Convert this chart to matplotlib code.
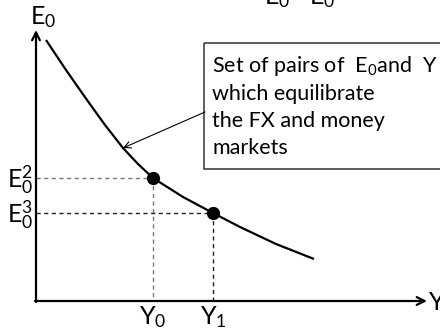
import matplotlib
matplotlib.use("Agg")
from matplotlib import pyplot as plt

plt.rcParams['font.family'] = ['Lato', 'DejaVu Sans']
plt.rcParams['mathtext.fontset'] = 'custom'
plt.rcParams['mathtext.rm'] = 'Lato'
plt.rcParams['mathtext.it'] = 'Lato:italic'

# curve (pixel-like units, y downward)
CURVE_X = [46, 66, 87, 105, 123, 138, 153, 183, 213, 240, 276, 314]
CURVE_Y = [40, 70, 100, 125, 148, 164, 178, 197, 213, 227, 244, 259]

# equilibrium points
POINT_X = [153, 213]
POINT_Y = [178, 213]
E_LABELS = [r"$\mathrm{E}_0^2$", r"$\mathrm{E}_0^3$"]
Y_LABELS = [r"$\mathrm{Y}_0$", r"$\mathrm{Y}_1$"]
DASH_COLORS = ["#777777", "#222222"]

ORIGIN = (36, 301)
BOX_TEXT = ["Set of pairs of  $\\mathrm{E}_0$and  Y",
            "which equilibrate",
            "the FX and money",
            "markets"]

fig = plt.figure(figsize=(4.4, 3.36), dpi=100)
ax = fig.add_axes([0, 0, 1, 1])
ax.set_xlim(0, 440)
ax.set_ylim(336, 0)
ax.axis("off")

# axes with arrows
ax.annotate("", xy=(ORIGIN[0], 30), xytext=(ORIGIN[0], ORIGIN[1] + 1),
            arrowprops=dict(arrowstyle="->", lw=1.6, color="black",
                            shrinkA=0, shrinkB=0, mutation_scale=14))
ax.annotate("", xy=(427, ORIGIN[1]), xytext=(ORIGIN[0] - 1, ORIGIN[1]),
            arrowprops=dict(arrowstyle="->", lw=1.6, color="black",
                            shrinkA=0, shrinkB=0, mutation_scale=14))

ax.plot(CURVE_X, CURVE_Y, color="black", lw=1.6, solid_capstyle="butt")

for px, py, el, yl, c in zip(POINT_X, POINT_Y, E_LABELS, Y_LABELS, DASH_COLORS):
    ax.plot([ORIGIN[0], px], [py, py], ls=(0, (3, 2.5)), color=c, lw=1.0)
    ax.plot([px, px], [py, ORIGIN[1]], ls=(0, (3, 2.5)), color=c, lw=1.0)
    ax.text(ORIGIN[0] - 3, py + 2, el, ha="right", va="center", fontsize=18)
    ax.text(px, ORIGIN[1] + 3, yl, ha="center", va="top", fontsize=18)

ax.plot(POINT_X, POINT_Y, "o", color="black", ms=8.5)

ax.text(30, 30, r"$\mathrm{E}_0$", ha="left", va="bottom", fontsize=18)
ax.text(429, ORIGIN[1] + 1, "Y", ha="left", va="center", fontsize=18)

# cropped text at the top
ax.text(300, 10, r"$\mathrm{E}_0 \quad \mathrm{E}_0$", ha="center", va="bottom",
        fontsize=18, clip_on=False)

# annotation box
ax.add_patch(plt.Rectangle((204, 43), 260, 126, fill=False, lw=1.1,
                           edgecolor="#333333", clip_on=True))
for i, line in enumerate(BOX_TEXT):
    ax.text(212, 66 + 27.5 * i, line, ha="left", va="center", fontsize=15.5)

ax.annotate("", xy=(123, 148), xytext=(205, 112),
            arrowprops=dict(arrowstyle="->", lw=0.8, color="black",
                            shrinkA=0, shrinkB=0, mutation_scale=12))

fig.savefig("out.png", dpi=100)
